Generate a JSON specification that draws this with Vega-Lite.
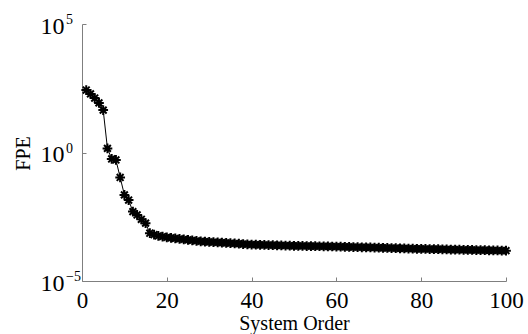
{
  "$schema": "https://vega.github.io/schema/vega-lite/v6.json",
  "autosize": {"type": "none"},
  "width": 424,
  "height": 257,
  "padding": {"left": 82, "top": 24, "right": 22, "bottom": 53},
  "background": "white",
  "config": {
    "view": {"stroke": null},
    "font": "Liberation Serif",
    "axis": {
      "grid": false,
      "domainColor": "#7f7f7f",
      "tickColor": "#7f7f7f",
      "labelColor": "black",
      "titleColor": "black",
      "labelFont": "Liberation Serif",
      "titleFont": "Liberation Serif",
      "labelFontWeight": "normal",
      "titleFontWeight": "normal"
    }
  },
  "datasets": {
    "exps": [
      {"v": 100000, "exp": "5"},
      {"v": 1, "exp": "0"},
      {"v": 0.00001, "exp": "−5"}
    ]
  },
  "data": {
    "values": [
      {"order": 1, "fpe": 269},
      {"order": 2, "fpe": 190.5},
      {"order": 3, "fpe": 131.8},
      {"order": 4, "fpe": 85.1},
      {"order": 5, "fpe": 44.7},
      {"order": 6, "fpe": 1.445},
      {"order": 7, "fpe": 0.562},
      {"order": 8, "fpe": 0.513},
      {"order": 9, "fpe": 0.107},
      {"order": 10, "fpe": 0.0224},
      {"order": 11, "fpe": 0.0141},
      {"order": 12, "fpe": 0.00501},
      {"order": 13, "fpe": 0.00372},
      {"order": 14, "fpe": 0.00251},
      {"order": 15, "fpe": 0.00178},
      {"order": 16, "fpe": 0.000724},
      {"order": 17, "fpe": 0.000631},
      {"order": 18, "fpe": 0.000575},
      {"order": 19, "fpe": 0.000537},
      {"order": 20, "fpe": 0.000501},
      {"order": 21, "fpe": 0.000479},
      {"order": 22, "fpe": 0.000457},
      {"order": 23, "fpe": 0.000437},
      {"order": 24, "fpe": 0.000417},
      {"order": 25, "fpe": 0.000398},
      {"order": 26, "fpe": 0.00038},
      {"order": 27, "fpe": 0.000363},
      {"order": 28, "fpe": 0.000347},
      {"order": 29, "fpe": 0.000339},
      {"order": 30, "fpe": 0.000331},
      {"order": 31, "fpe": 0.000324},
      {"order": 32, "fpe": 0.000316},
      {"order": 33, "fpe": 0.000309},
      {"order": 34, "fpe": 0.000302},
      {"order": 35, "fpe": 0.000295},
      {"order": 36, "fpe": 0.000288},
      {"order": 37, "fpe": 0.000282},
      {"order": 38, "fpe": 0.000275},
      {"order": 39, "fpe": 0.000269},
      {"order": 40, "fpe": 0.000263},
      {"order": 41, "fpe": 0.00026},
      {"order": 42, "fpe": 0.000257},
      {"order": 43, "fpe": 0.000254},
      {"order": 44, "fpe": 0.000251},
      {"order": 45, "fpe": 0.000248},
      {"order": 46, "fpe": 0.000245},
      {"order": 47, "fpe": 0.000243},
      {"order": 48, "fpe": 0.00024},
      {"order": 49, "fpe": 0.000237},
      {"order": 50, "fpe": 0.000234},
      {"order": 51, "fpe": 0.000233},
      {"order": 52, "fpe": 0.000231},
      {"order": 53, "fpe": 0.00023},
      {"order": 54, "fpe": 0.000228},
      {"order": 55, "fpe": 0.000226},
      {"order": 56, "fpe": 0.000225},
      {"order": 57, "fpe": 0.000223},
      {"order": 58, "fpe": 0.000222},
      {"order": 59, "fpe": 0.00022},
      {"order": 60, "fpe": 0.000219},
      {"order": 61, "fpe": 0.0002165},
      {"order": 62, "fpe": 0.0002143},
      {"order": 63, "fpe": 0.0002121},
      {"order": 64, "fpe": 0.0002099},
      {"order": 65, "fpe": 0.0002077},
      {"order": 66, "fpe": 0.0002056},
      {"order": 67, "fpe": 0.0002034},
      {"order": 68, "fpe": 0.0002014},
      {"order": 69, "fpe": 0.0001993},
      {"order": 70, "fpe": 0.0001972},
      {"order": 71, "fpe": 0.0001952},
      {"order": 72, "fpe": 0.0001932},
      {"order": 73, "fpe": 0.0001912},
      {"order": 74, "fpe": 0.0001892},
      {"order": 75, "fpe": 0.0001873},
      {"order": 76, "fpe": 0.0001854},
      {"order": 77, "fpe": 0.0001834},
      {"order": 78, "fpe": 0.0001816},
      {"order": 79, "fpe": 0.0001797},
      {"order": 80, "fpe": 0.0001778},
      {"order": 81, "fpe": 0.0001764},
      {"order": 82, "fpe": 0.000175},
      {"order": 83, "fpe": 0.0001736},
      {"order": 84, "fpe": 0.0001722},
      {"order": 85, "fpe": 0.0001708},
      {"order": 86, "fpe": 0.0001694},
      {"order": 87, "fpe": 0.000168},
      {"order": 88, "fpe": 0.0001667},
      {"order": 89, "fpe": 0.0001653},
      {"order": 90, "fpe": 0.0001641},
      {"order": 91, "fpe": 0.0001627},
      {"order": 92, "fpe": 0.0001614},
      {"order": 93, "fpe": 0.0001601},
      {"order": 94, "fpe": 0.0001589},
      {"order": 95, "fpe": 0.0001576},
      {"order": 96, "fpe": 0.0001563},
      {"order": 97, "fpe": 0.0001551},
      {"order": 98, "fpe": 0.0001538},
      {"order": 99, "fpe": 0.0001526},
      {"order": 100, "fpe": 0.0001514}
    ]
  },
  "layer": [
    {
      "mark": {"type": "line", "color": "black", "strokeWidth": 1},
      "encoding": {
        "x": {
          "field": "order",
          "type": "quantitative",
          "scale": {"domain": [0, 100], "nice": false, "zero": false},
          "axis": {
            "title": "System Order",
            "values": [0, 20, 40, 60, 80, 100],
            "tickSize": -4,
            "labelFontSize": 23,
            "labelPadding": 12,
            "labelFlush": false,
            "labelBaseline": "top",
            "titleFontSize": 20,
            "titlePadding": 1
          }
        },
        "y": {
          "field": "fpe",
          "type": "quantitative",
          "scale": {"type": "log", "domain": [0.00001, 100000], "nice": false},
          "axis": {
            "title": "FPE",
            "values": [0.00001, 1, 100000],
            "labelExpr": "'10'",
            "tickSize": -4,
            "labelFontSize": 24,
            "labelPadding": 22,
            "labelFlush": false,
            "labelBaseline": "middle",
            "labelOffset": 2,
            "titleFontSize": 20,
            "titleX": -59,
            "titleY": 129,
            "titleAngle": -90,
            "titleAlign": "center",
            "titleBaseline": "middle"
          }
        }
      }
    },
    {
      "mark": {
        "type": "point",
        "shape": "M-1,0L1,0M0,-1L0,1M-0.7,-0.7L0.7,0.7M-0.7,0.7L0.7,-0.7",
        "filled": false,
        "stroke": "black",
        "strokeWidth": 2,
        "size": 95,
        "opacity": 1
      },
      "encoding": {
        "x": {"field": "order", "type": "quantitative"},
        "y": {"field": "fpe", "type": "quantitative"}
      }
    },
    {
      "data": {"name": "exps"},
      "mark": {
        "type": "text",
        "font": "Liberation Serif",
        "fontSize": 14,
        "align": "left",
        "baseline": "top",
        "dx": -16,
        "dy": -11,
        "color": "black"
      },
      "encoding": {
        "x": {"datum": 0, "type": "quantitative"},
        "y": {"field": "v", "type": "quantitative"},
        "text": {"field": "exp", "type": "nominal"}
      }
    }
  ]
}
